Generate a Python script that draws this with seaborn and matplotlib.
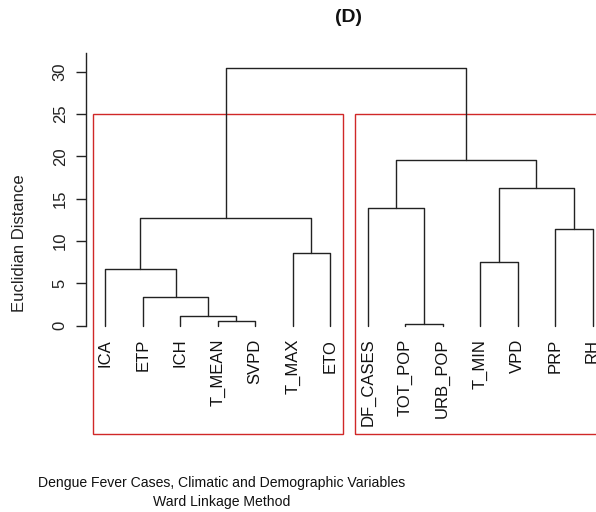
import matplotlib
matplotlib.use("Agg")
import matplotlib.pyplot as plt
import seaborn as sns
import pandas as pd
from matplotlib.patches import Rectangle

# ---- data ----
leaves = ["ICA", "ETP", "ICH", "T_MEAN", "SVPD", "T_MAX", "ETO",
          "DF_CASES", "TOT_POP", "URB_POP", "T_MIN", "VPD", "PRP", "RH"]
# merges in R hclust style: negative = leaf (1-based order), positive = earlier merge
merge_a = [-9, -4, -3, -2, -1, -11, -6, -13, 5, -8, 6, 10, 9]
merge_b = [-10, -5, 2, 3, 4, -12, -7, -14, 7, 1, 8, 11, 12]
heights = [0.2, 0.56, 1.15, 3.43, 6.67, 7.53, 8.6, 11.43, 12.77, 13.95, 16.24, 19.6, 30.46]
cluster_sizes = [7, 7]   # k = 2 clusters (rect.hclust)
yticks = [0, 5, 10, 15, 20, 25, 30]

title = "(D)"
ylabel = "Euclidian Distance"
sub1 = "Dengue Fever Cases, Climatic and Demographic Variables"
sub2 = "Ward Linkage Method"

# ---- style ----
sns.set_style("white")
plt.rcParams["font.family"] = ["Liberation Sans", "DejaVu Sans"]

fig = plt.figure(figsize=(5.96, 5.12), dpi=100)
ax = fig.add_axes([85.8 / 596, 1 - 434 / 512, (612 - 85.8) / 596, (434 - 53) / 512])

# ---- build dendrogram segments ----
def node_pos(i, xs):
    if i < 0:
        return float(-i), 0.0
    return xs[i - 1]

xs = []
rows = []
for k, (a, b, h) in enumerate(zip(merge_a, merge_b, heights), start=1):
    xa, ha = node_pos(a, xs)
    xb, hb = node_pos(b, xs)
    for x, y in [(xa, ha), (xa, h), (xb, h), (xb, hb)]:
        rows.append({"x": x, "y": y, "link": k})
    xs.append(((xa + xb) / 2.0, h))
df = pd.DataFrame(rows)

sns.lineplot(data=df, x="x", y="y", units="link", estimator=None, sort=False,
             color="#222222", lw=1.0, ax=ax, legend=False)

ax.set_xlim(0.48, 14.52)
ax.set_ylim(-12.8, 32.2)

# ---- cluster rectangles ----
top_h = sorted(heights)[-2:]
rect_top = sum(top_h) / 2.0
start = 0
for n in cluster_sizes:
    x0 = start + 0.66
    x1 = start + n + 0.33
    ax.add_patch(Rectangle((x0, -12.8), x1 - x0, rect_top + 12.8, fill=False,
                           edgecolor="#d02828", lw=1.0, clip_on=False))
    start += n

# ---- leaf labels ----
for i, lab in enumerate(leaves, start=1):
    ax.annotate(lab, (i, 0), xytext=(0, -9.5), textcoords="offset points",
                rotation=90, ha="center", va="top", fontsize=12, color="#111111")

# ---- axes ----
ax.set_xticks([])
ax.set_xlabel("")
ax.set_ylabel("")
for s in ["top", "right", "bottom"]:
    ax.spines[s].set_visible(False)
ax.spines["left"].set_bounds(0, 32.2)
ax.spines["left"].set_color("#222222")
ax.spines["left"].set_linewidth(1.0)
ax.set_yticks(yticks)
ax.set_yticklabels([str(t) for t in yticks], rotation=90, va="center")
ax.tick_params(axis="y", left=True, length=7, width=1.0, pad=6, labelsize=12,
               color="#222222", labelcolor="#222222")

fig.text(20 / 596, 1 - 243.5 / 512, ylabel, rotation=90, ha="center", va="center",
         fontsize=12, color="#222222")
fig.text(348 / 596, 1 - 18 / 512, title, ha="center", va="center",
         fontsize=14, fontweight="bold", color="#111111")
fig.text(222 / 596, 1 - 483 / 512, sub1, ha="center", va="center", fontsize=10.1, color="#111111")
fig.text(222 / 596, 1 - 502 / 512, sub2, ha="center", va="center", fontsize=10.1, color="#111111")

fig.savefig("out.png", dpi=100)
